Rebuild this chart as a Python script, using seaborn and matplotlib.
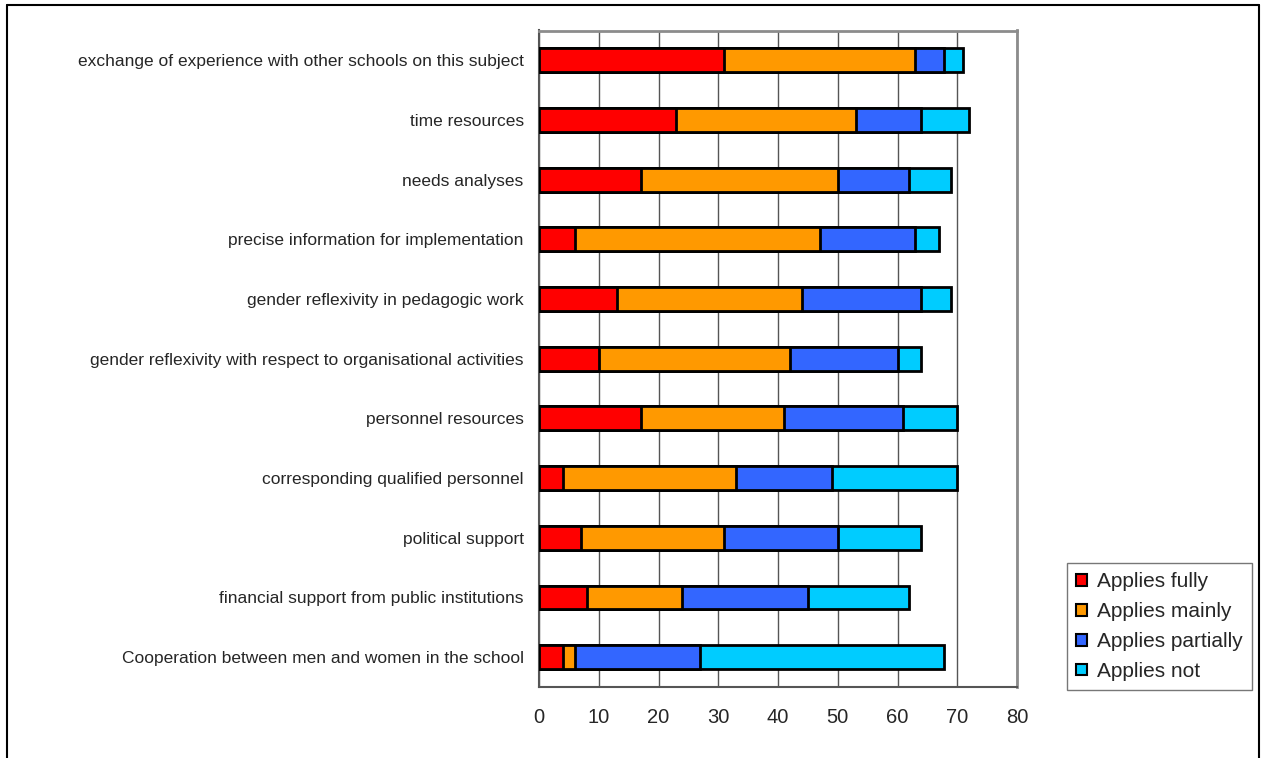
import numpy as np
import pandas as pd
import seaborn as sns
import matplotlib
matplotlib.use("Agg")
import matplotlib.pyplot as plt
from matplotlib.lines import Line2D
from matplotlib.patches import Patch

categories = [
    "exchange of experience with other schools on this subject",
    "time resources",
    "needs analyses",
    "precise information for implementation",
    "gender reflexivity in pedagogic work",
    "gender reflexivity with respect to organisational activities",
    "personnel resources",
    "corresponding qualified personnel",
    "political support",
    "financial support from public institutions",
    "Cooperation between men and women in the school",
]
applies_fully = [31, 23, 17, 6, 13, 10, 17, 4, 7, 8, 4]
applies_mainly = [32, 30, 33, 41, 31, 32, 24, 29, 24, 16, 2]
applies_partially = [4.8, 11, 12, 16, 20, 18, 20, 16, 19, 21, 21]
applies_not = [3.1, 8, 7, 4, 5, 4, 9, 21, 14, 17, 40.8]

series_names = ["Applies fully", "Applies mainly", "Applies partially", "Applies not"]
colors = ["#FF0000", "#FF9900", "#3366FF", "#00CCFF"]
x_ticks = [0, 10, 20, 30, 40, 50, 60, 70, 80]

sns.set_style("white")
plt.rcParams["font.family"] = ["Liberation Sans", "DejaVu Sans"]

df = pd.DataFrame({
    "category": categories,
    series_names[0]: applies_fully,
    series_names[1]: applies_mainly,
    series_names[2]: applies_partially,
    series_names[3]: applies_not,
})
cum = df[series_names].cumsum(axis=1)

fig = plt.figure(figsize=(12.61, 7.58), dpi=100)
ax = fig.add_axes([539 / 1261, 1 - 687 / 758, (1017 - 539) / 1261, (687 - 30.5) / 758])

# draw cumulative totals from largest to smallest so that stacks appear
for name, col in reversed(list(zip(series_names, colors))):
    sns.barplot(x=cum[name], y=df["category"], orient="h", color=col,
                width=0.4, edgecolor="black", linewidth=2, ax=ax,
                saturation=1, zorder=3)

ax.set_xlim(0, 80)
ax.set_ylim(len(categories) - 0.5, -0.5)
ax.set_xticks(x_ticks)
ax.set_xticklabels([str(t) for t in x_ticks], fontsize=14.5)
ax.tick_params(axis="x", direction="out", length=5, width=1, color="#404040", pad=10)
ax.set_yticks(range(len(categories)))
ax.set_yticklabels(categories, fontsize=12.5)
ax.tick_params(axis="y", which="major", length=0, pad=11)
ax.set_yticks(np.arange(-0.5, len(categories), 1.0), minor=True)
ax.tick_params(axis="y", which="minor", direction="out", length=5, width=1, color="#404040")
ax.set_xlabel("")
ax.set_ylabel("")
ax.grid(axis="x", color="#555555", linewidth=1, zorder=0)
ax.set_axisbelow(True)
for side in ["top", "right"]:
    ax.spines[side].set_color("#8c8c8c")
    ax.spines[side].set_linewidth(2)
for side in ["left", "bottom"]:
    ax.spines[side].set_color("#555555")
    ax.spines[side].set_linewidth(1.5)

handles = [Patch(facecolor=c, edgecolor="black", linewidth=1.5) for c in colors]
fig.legend(handles, series_names, loc="upper left",
           bbox_to_anchor=(1067 / 1261, 1 - 563 / 758), borderaxespad=0,
           fontsize=15, frameon=True, fancybox=False, edgecolor="#555555",
           handlelength=0.5, handleheight=0.5, handletextpad=0.5,
           labelspacing=0.52, borderpad=0.45)

# outer chart frame
fw, fh = 1261, 758
frame_kw = dict(color="black", linewidth=1.5, transform=fig.transFigure)
fig.add_artist(Line2D([6.5 / fw, 1259 / fw], [1 - 4.5 / fh, 1 - 4.5 / fh], **frame_kw))
fig.add_artist(Line2D([6.5 / fw, 6.5 / fw], [1 - 4.5 / fh, 0], **frame_kw))
fig.add_artist(Line2D([1259 / fw, 1259 / fw], [1 - 4.5 / fh, 0], **frame_kw))

fig.savefig("out.png", dpi=100)
